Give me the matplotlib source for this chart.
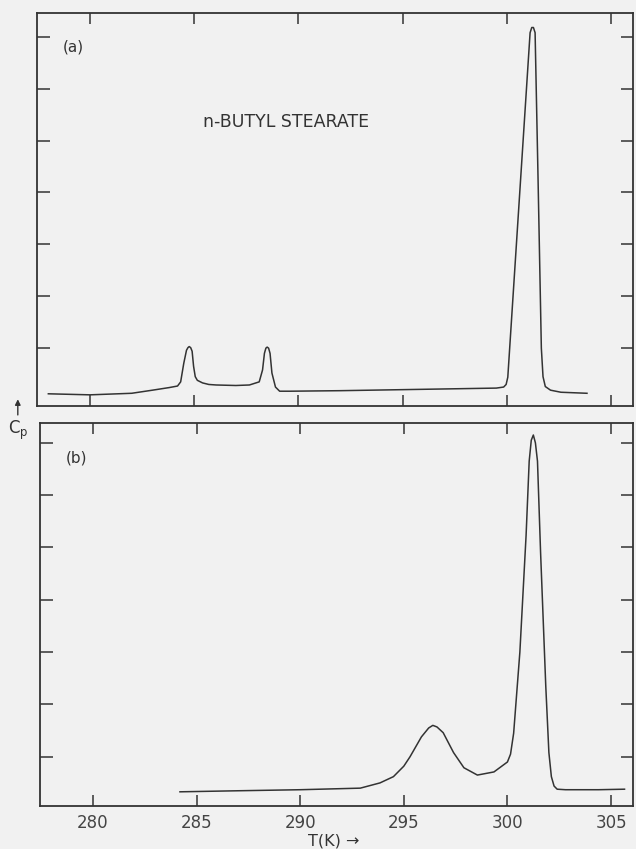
import numpy as np
import matplotlib
matplotlib.use('Agg')
import matplotlib.pyplot as plt

plt.rcParams['font.family'] = ['DejaVu Sans']

# (a) n-butyl stearate, curve
top_T = [278.0, 280.0, 282.0, 283.0, 283.8, 284.2, 284.35, 284.5, 284.63, 284.7,
         284.76, 284.83, 284.9, 284.97, 285.05, 285.15, 285.4, 285.7, 286.05, 287.0,
         287.65, 288.12, 288.28, 288.37, 288.44, 288.5, 288.57, 288.64, 288.73, 288.9,
         289.1, 289.6, 292.0, 295.0, 298.0, 299.5, 299.85, 299.97, 300.05, 301.12,
         301.2, 301.28, 301.36, 301.5, 301.66, 301.74, 301.85, 302.1, 302.6, 303.85]
top_Cp = [0.12, 0.10, 0.13, 0.19, 0.24, 0.27, 0.35, 0.71, 0.96, 1.01,
          1.03, 1.01, 0.94, 0.65, 0.45, 0.38, 0.33, 0.30, 0.29, 0.28,
          0.29, 0.35, 0.58, 0.90, 1.00, 1.02, 1.00, 0.90, 0.52, 0.25,
          0.17, 0.17, 0.18, 0.20, 0.22, 0.23, 0.25, 0.30, 0.44, 7.08,
          7.18, 7.18, 7.08, 4.30, 1.00, 0.45, 0.26, 0.19, 0.15, 0.13]

# (b) bottom panel
bot_T = [284.2, 287.0, 290.0, 292.9, 293.85, 294.5, 295.0, 295.3, 295.85, 296.2,
         296.4, 296.6, 296.9, 297.4, 297.9, 298.55, 299.35, 300.0, 300.15, 300.3,
         300.6, 300.9, 301.05, 301.15, 301.25, 301.35, 301.45, 301.6, 301.85, 302.0,
         302.12, 302.25, 302.4, 302.8, 304.4, 305.65]
bot_Cp = [0.33, 0.35, 0.37, 0.40, 0.50, 0.62, 0.82, 1.00, 1.38, 1.55,
          1.60, 1.57, 1.46, 1.08, 0.79, 0.65, 0.71, 0.90, 1.05, 1.45,
          3.00, 5.23, 6.65, 7.05, 7.15, 7.00, 6.65, 4.90, 2.35, 1.08,
          0.62, 0.44, 0.38, 0.37, 0.37, 0.38]

xticks = [280, 285, 290, 295, 300, 305]
yticks = [1, 2, 3, 4, 5, 6, 7]

bg = '#f1f1f1'
ink = '#333333'

fig = plt.figure(figsize=(6.36, 8.49), dpi=100, facecolor=bg)
ax1 = fig.add_axes([0.058, 0.5218, 0.937, 0.4629], facecolor=bg)
ax2 = fig.add_axes([0.063, 0.0506, 0.932, 0.4512], facecolor=bg)

ax1.plot(top_T, top_Cp, color=ink, lw=1.1, solid_joinstyle='round')
ax2.plot(bot_T, bot_Cp, color=ink, lw=1.1, solid_joinstyle='round')

ax1.set_ylim(-0.115, 7.46)
ax2.set_ylim(0.058, 7.38)

for ax in (ax1, ax2):
    ax.set_xlim(277.45, 306.05)
    ax.set_xticks(xticks)
    ax.set_yticks(yticks)
    ax.tick_params(axis='both', direction='in', top=True, right=True,
                   color=ink, width=1.1, labelleft=False, labelright=False)
    ax.tick_params(axis='x', length=8)
    ax.tick_params(axis='y', length=9)
    for s in ax.spines.values():
        s.set_color(ink)
        s.set_linewidth(1.3)

ax1.tick_params(axis='x', labelbottom=False)
ax2.set_xticklabels([str(t) for t in xticks], fontsize=12, color='#444444')
ax2.tick_params(axis='x', pad=6)

ax1.text(0.044, 0.913, '(a)', transform=ax1.transAxes, fontsize=11, color=ink, va='center')
ax1.text(0.279, 0.723, 'n-BUTYL STEARATE', transform=ax1.transAxes,
         fontsize=12.5, color=ink, va='center')
ax2.text(0.044, 0.909, '(b)', transform=ax2.transAxes, fontsize=11, color=ink, va='center')

fig.text(0.525, 0.009, 'T(K) \u2192', fontsize=11.5, color=ink, ha='center', va='center')
fig.text(0.012, 0.493, r'C$_\mathregular{p}$', fontsize=12, color=ink, va='center')
fig.add_artist(matplotlib.patches.FancyArrowPatch(
    (0.028, 0.508), (0.028, 0.533), transform=fig.transFigure,
    arrowstyle='-|>', mutation_scale=8, color=ink, lw=1.0))

fig.savefig('out.png', dpi=100, facecolor=bg)
